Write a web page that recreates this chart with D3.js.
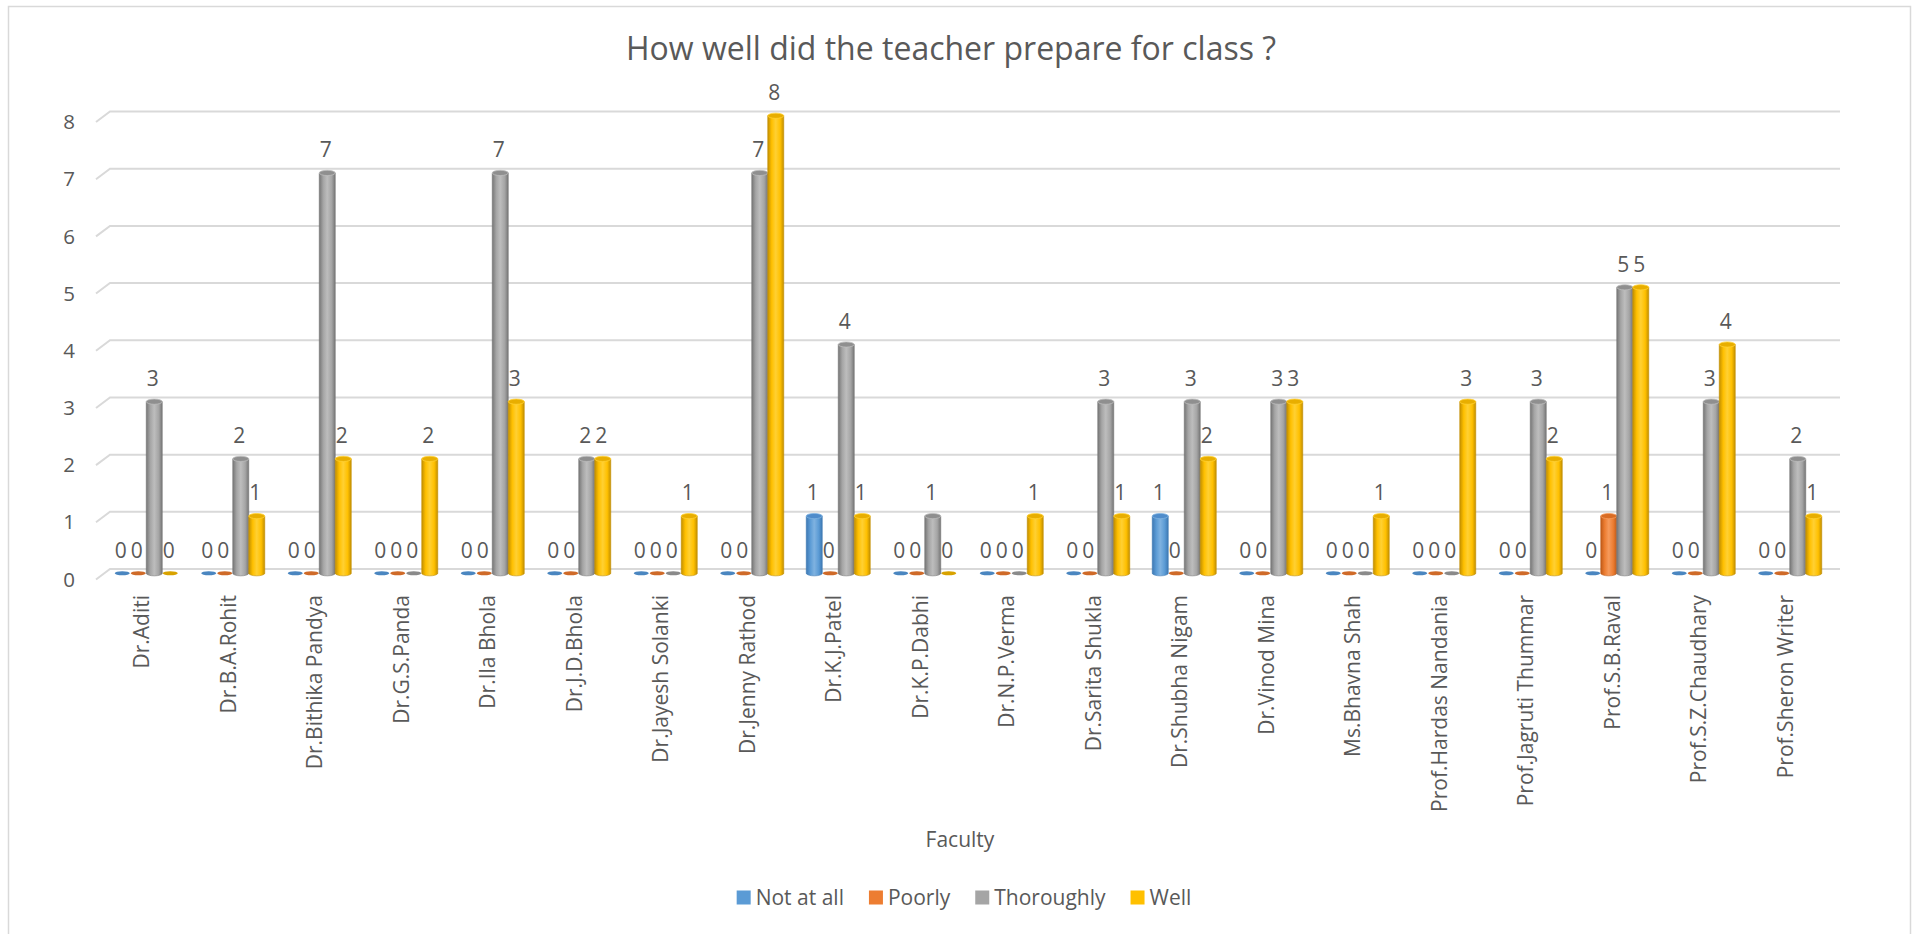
<!DOCTYPE html>
<html>
<head>
<meta charset="utf-8">
<script src="https://cdn.jsdelivr.net/npm/d3@7/dist/d3.min.js"></script>
<style>
  html, body { margin: 0; padding: 0; background: #ffffff; }
  svg { display: block; }
  text { font-family: "Open Sans", "Noto Sans", sans-serif; fill: #595959; }
</style>
</head>
<body>
<svg id="chart" width="1921" height="934"></svg>
<script>
// ---- data ----
const categories = [
  "Dr.Aditi", "Dr.B.A.Rohit", "Dr.Bithika Pandya", "Dr.G.S.Panda", "Dr.Ila Bhola",
  "Dr.J.D.Bhola", "Dr.Jayesh Solanki", "Dr.Jenny Rathod", "Dr.K.J.Patel", "Dr.K.P.Dabhi",
  "Dr.N.P.Verma", "Dr.Sarita Shukla", "Dr.Shubha Nigam", "Dr.Vinod Mina", "Ms.Bhavna Shah",
  "Prof.Hardas Nandania", "Prof.Jagruti Thummar", "Prof.S.B.Raval", "Prof.S.Z.Chaudhary", "Prof.Sheron Writer"
];
const seriesNames = ["Not at all", "Poorly", "Thoroughly", "Well"];
const notAtAll   = [0,0,0,0,0, 0,0,0,1,0, 0,0,1,0,0, 0,0,0,0,0];
const poorly     = [0,0,0,0,0, 0,0,0,0,0, 0,0,0,0,0, 0,0,1,0,0];
const thoroughly = [3,2,7,0,7, 2,0,7,4,1, 0,3,3,3,0, 0,3,5,3,2];
const well       = [0,1,2,2,3, 2,1,8,1,0, 1,1,2,3,1, 3,2,5,4,1];
const yTicks = [0,1,2,3,4,5,6,7,8];
const chartTitle = "How well did the teacher prepare for class ?";
const xAxisTitle = "Faculty";

const seriesValues = [notAtAll, poorly, thoroughly, well];
const seriesColors = [
  { base: "#5b9bd5", dark: "#3d78b3", light: "#7fb2e0", cap: "#4f8ccb", flat: "#4a86c0" },
  { base: "#ed7d31", dark: "#bf5a18", light: "#f59a5c", cap: "#d96c24", flat: "#cf6a28" },
  { base: "#a5a5a5", dark: "#767676", light: "#bdbdbd", cap: "#8f8f8f", flat: "#8a8a8a" },
  { base: "#ffc000", dark: "#c28f00", light: "#ffd033", cap: "#e8ae00", flat: "#d8a200" }
];

// ---- geometry ----
const svg = d3.select("#chart");
const depthDx = 14, depthDy = 10.5;         // 3D floor depth (back plane offset)
const backLeft = 110, backRight = 1840;      // back plane x range
const yBack = d3.scaleLinear().domain([0, 8]).range([569, 111.5]);
const midDx = depthDx / 2, midDy = depthDy / 2;

const x0 = d3.scaleBand().domain(categories)
  .range([backLeft - midDx, backRight - midDx]).paddingInner(0).paddingOuter(0);
const x1 = d3.scaleBand().domain(seriesNames).range([-32, 32]).padding(0);
const yBar = v => yBack(v) + midDy - 1;

// frame
svg.append("rect").attr("x", 8.5).attr("y", 6.5).attr("width", 1902).attr("height", 940)
  .attr("fill", "#ffffff").attr("stroke", "#d9d9d9").attr("stroke-width", 1.5);

// defs gradients
const defs = svg.append("defs");
seriesColors.forEach((c, i) => {
  const g = defs.append("linearGradient").attr("id", "cyl" + i)
    .attr("x1", "0%").attr("x2", "100%").attr("y1", "0%").attr("y2", "0%");
  g.append("stop").attr("offset", "0%").attr("stop-color", c.dark);
  g.append("stop").attr("offset", "25%").attr("stop-color", c.base);
  g.append("stop").attr("offset", "50%").attr("stop-color", c.light);
  g.append("stop").attr("offset", "78%").attr("stop-color", c.base);
  g.append("stop").attr("offset", "100%").attr("stop-color", c.dark);
});

// gridlines with 3D diagonal
const grid = svg.append("g");
yTicks.forEach(t => {
  const yb = yBack(t);
  grid.append("path")
    .attr("d", `M${backLeft - depthDx},${yb + depthDy}L${backLeft},${yb}L${backRight},${yb}`)
    .attr("fill", "none").attr("stroke", "#d9d9d9").attr("stroke-width", 2);
});

// y tick labels
svg.append("g").selectAll("text").data(yTicks).join("text")
  .attr("x", 75).attr("y", d => yBack(d) + depthDy)
  .attr("dy", "0.35em").attr("text-anchor", "end")
  .attr("font-size", 20.5).text(d => d);

// title
svg.append("text").attr("x", 951).attr("y", 49).attr("dy", "0.35em")
  .attr("text-anchor", "middle").attr("font-size", 32).text(chartTitle);

// bars
const bars = svg.append("g");
const rx = 8, ry = 2.6;
categories.forEach((cat, ci) => {
  const cx0 = x0(cat) + x0.bandwidth() / 2;
  seriesNames.forEach((s, si) => {
    const v = seriesValues[si][ci];
    const cx = cx0 + x1(s) + x1.bandwidth() / 2;
    const yb0 = yBar(0);
    const c = seriesColors[si];
    if (v > 0) {
      const yt = yBar(v);
      bars.append("path")
        .attr("d", `M${cx - rx},${yt}L${cx - rx},${yb0}A${rx},${ry} 0 0 0 ${cx + rx},${yb0}L${cx + rx},${yt}Z`)
        .attr("fill", `url(#cyl${si})`).attr("stroke", c.dark).attr("stroke-width", 0.6);
      bars.append("ellipse").attr("cx", cx).attr("cy", yt).attr("rx", rx).attr("ry", ry)
        .attr("fill", c.cap).attr("stroke", c.light).attr("stroke-width", 0.8);
    } else {
      bars.append("ellipse").attr("cx", cx).attr("cy", yb0).attr("rx", rx - 0.5).attr("ry", ry - 0.6)
        .attr("fill", c.flat);
    }
  });
});

// data labels
const labels = svg.append("g");
categories.forEach((cat, ci) => {
  const cx0 = x0(cat) + x0.bandwidth() / 2;
  seriesNames.forEach((s, si) => {
    const v = seriesValues[si][ci];
    const cx = cx0 + x1(s) + x1.bandwidth() / 2 - 1.5;
    labels.append("text").attr("x", cx).attr("y", yBar(v) - 23)
      .attr("dy", "0.35em").attr("text-anchor", "middle")
      .attr("font-size", 21).attr("fill", "#404040").text(v);
  });
});

// category labels (rotated)
svg.append("g").selectAll("text").data(categories).join("text")
  .attr("transform", d => `translate(${x0(d) + x0.bandwidth() / 2 - 4.5},595) rotate(-90)`)
  .attr("dy", "0.35em").attr("text-anchor", "end")
  .attr("font-size", 21).text(d => d);

// axis title
svg.append("text").attr("x", 960).attr("y", 840).attr("dy", "0.35em")
  .attr("text-anchor", "middle").attr("font-size", 21).text(xAxisTitle);

// legend (centred)
const legend = svg.append("g");
const items = [];
let lx = 0;
seriesNames.forEach((s, si) => {
  const r = legend.append("rect").attr("y", 890.5).attr("width", 14).attr("height", 14)
    .attr("fill", seriesColors[si].base);
  const t = legend.append("text").attr("y", 897.5).attr("dy", "0.35em")
    .attr("font-size", 21).text(s);
  items.push({ r, t, x: lx });
  lx += 19 + t.node().getComputedTextLength() + 25;
});
const totalW = lx - 25;
const startX = 964 - totalW / 2;
items.forEach(it => {
  it.r.attr("x", startX + it.x);
  it.t.attr("x", startX + it.x + 19);
});
</script>
</body>
</html>
